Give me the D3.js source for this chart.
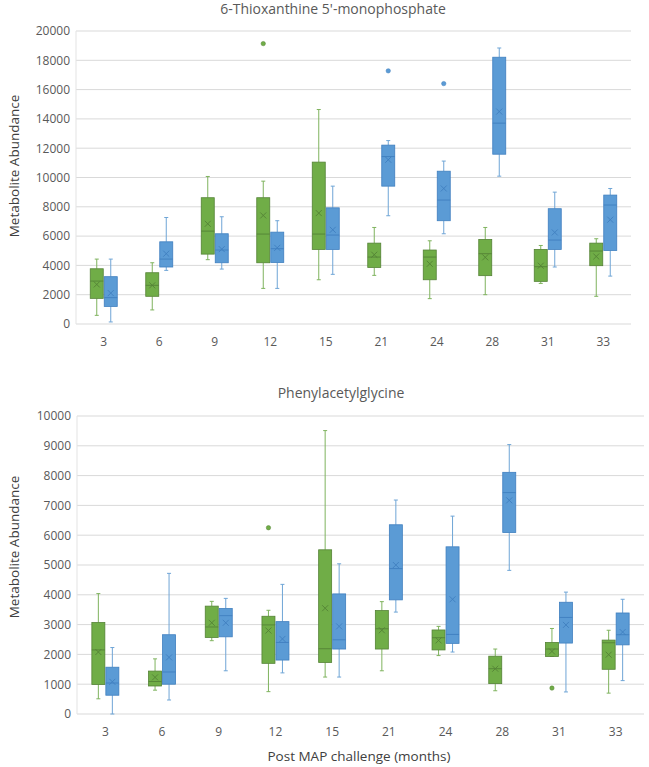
<!DOCTYPE html>
<html>
<head>
<meta charset="utf-8">
<script src="https://cdn.jsdelivr.net/npm/d3@7"></script>
<style>
  body { margin: 0; background: #fff; }
  text { font-family: "Open Sans", "Noto Sans", sans-serif; fill: #595959; }
</style>
</head>
<body>
<script>
// months after challenge
const months = ['3', '6', '9', '12', '15', '21', '24', '28', '31', '33'];

// each row: [whisker low, Q1, median, Q3, whisker high, mean]
const thioGreen = [
  [590, 1750, 2930, 3770, 4430, 2700],
  [960, 1890, 2640, 3500, 4180, 2640],
  [4390, 4770, 6340, 8620, 10070, 6840],
  [2430, 4180, 6140, 8620, 9750, 7410],
  [3020, 5090, 6140, 11050, 14640, 7570],
  [3320, 3860, 4570, 5520, 6590, 4730],
  [1730, 3020, 4570, 5050, 5680, 4110],
  [2000, 3300, 4800, 5770, 6590, 4550],
  [2770, 2910, 3910, 5090, 5360, 3980],
  [1890, 3980, 4980, 5520, 5820, 4610]
];
const thioBlue = [
  [140, 1200, 1800, 3230, 4430, 2110],
  [3660, 3890, 4430, 5610, 7270, 4800],
  [3750, 4180, 5050, 6160, 7320, 5110],
  [2430, 4200, 5140, 6270, 7050, 5200],
  [3390, 5090, 6070, 7930, 9410, 6430],
  [7390, 9410, 11430, 12210, 12520, 11210],
  [6160, 7050, 8460, 10430, 11120, 9250],
  [10090, 11590, 13710, 18210, 18840, 14500],
  [3890, 5090, 5730, 7870, 9000, 6250],
  [3270, 5020, 8120, 8800, 9250, 7120]
];
const thioGreenOut = [['12', 19140]];
const thioBlueOut = [['21', 17280], ['24', 16410]];

const phenGreen = [
  [510, 990, 2150, 3070, 4040, 2080],
  [800, 940, 1090, 1440, 1850, 1230],
  [2460, 2570, 2920, 3620, 3780, 3060],
  [750, 1700, 2990, 3280, 3480, 2800],
  [1240, 1730, 2190, 5510, 9510, 3550],
  [1450, 2180, 2860, 3470, 3770, 2810],
  [1960, 2150, 2560, 2820, 2940, 2470],
  [780, 1020, 1520, 1940, 2180, 1520],
  [1930, 1930, 2180, 2400, 2870, 2100],
  [700, 1500, 2390, 2480, 2810, 1990]
];
const phenBlue = [
  [0, 630, 1040, 1570, 2230, 1080],
  [470, 1000, 1410, 2660, 4720, 1900],
  [1450, 2590, 3300, 3540, 3880, 3060],
  [1380, 1810, 2400, 3100, 4350, 2520],
  [1240, 2180, 2490, 4030, 5040, 2940],
  [3420, 3830, 4880, 6350, 7180, 5000],
  [2080, 2370, 2670, 5610, 6640, 3850],
  [4820, 6090, 7430, 8110, 9040, 7170],
  [740, 2380, 3240, 3750, 4090, 2990],
  [1120, 2320, 2660, 3390, 3850, 2750]
];
const phenGreenOut = [['12', 6250], ['31', 870]];
const phenBlueOut = [];

const thioTicks = d3.range(0, 20001, 2000);
const phenTicks = d3.range(0, 10001, 1000);

const green = { fill: '#70ad47', stroke: '#548235', whisker: '#7fb35e' };
const blue = { fill: '#5b9bd5', stroke: '#3f7fbf', whisker: '#6fa5d6' };

const svg = d3.select('body').append('svg')
  .attr('width', 649)
  .attr('height', 767);

function drawChart(opt) {
  const x = d3.scaleBand().domain(months).range([opt.left, opt.right]);
  const y = d3.scaleLinear().domain([0, opt.max]).range([opt.bottom, opt.top]);
  const g = svg.append('g');

  // gridlines
  g.selectAll('.grid')
    .data(opt.ticks)
    .join('line')
    .attr('x1', opt.left)
    .attr('x2', opt.right)
    .attr('y1', d => y(d))
    .attr('y2', d => y(d))
    .style('stroke', '#d9d9d9')
    .style('stroke-width', '1px');

  g.append('line')
    .attr('x1', opt.left).attr('x2', opt.left)
    .attr('y1', opt.top).attr('y2', opt.bottom)
    .style('stroke', '#e3e3e3');

  // y tick labels
  const yAxis = g.append('g')
    .attr('transform', `translate(${opt.left - 6},0)`)
    .call(d3.axisLeft(y).tickValues(opt.ticks).tickFormat(d3.format('d')).tickSize(0).tickPadding(0));
  yAxis.select('.domain').remove();
  yAxis.selectAll('text').style('font-size', '12px').style('fill', '#595959');

  // x tick labels
  const xAxis = g.append('g')
    .attr('transform', `translate(0,${opt.bottom + 13})`)
    .call(d3.axisBottom(x).tickSize(0).tickPadding(0));
  xAxis.select('.domain').remove();
  xAxis.selectAll('text').style('font-size', '12px').style('fill', '#595959');

  // title
  g.append('text')
    .attr('x', opt.titleX)
    .attr('y', opt.titleY)
    .attr('text-anchor', 'middle')
    .style('font-size', '14px')
    .text(opt.title);

  // y axis title
  g.append('text')
    .attr('transform', `translate(19,${opt.yTitleY}) rotate(-90)`)
    .attr('text-anchor', 'middle')
    .style('font-size', '13.5px')
    .style('fill', '#404040')
    .text('Metabolite Abundance');

  const boxW = 13;
  drawSeries(g, x, y, opt.green, opt.greenOut, green, -7, boxW);
  drawSeries(g, x, y, opt.blue, opt.blueOut, blue, 7, boxW);
}

function drawSeries(g, x, y, data, outliers, col, shift, boxW) {
  const cx = i => x(months[i]) + x.bandwidth() / 2 + shift;
  const s = g.append('g');

  data.forEach((d, i) => {
    const c = cx(i);
    // whiskers
    s.append('line')
      .attr('x1', c).attr('x2', c)
      .attr('y1', y(d[4])).attr('y2', y(d[3]))
      .style('stroke', col.whisker);
    s.append('line')
      .attr('x1', c).attr('x2', c)
      .attr('y1', y(d[1])).attr('y2', y(d[0]))
      .style('stroke', col.whisker);
    [d[0], d[4]].forEach(v => {
      s.append('line')
        .attr('x1', c - 2).attr('x2', c + 2)
        .attr('y1', y(v)).attr('y2', y(v))
        .style('stroke', col.whisker);
    });
    // box
    s.append('rect')
      .attr('x', c - boxW / 2)
      .attr('y', y(d[3]))
      .attr('width', boxW)
      .attr('height', y(d[1]) - y(d[3]))
      .style('fill', col.fill)
      .style('stroke', col.stroke)
      .style('stroke-width', '0.8px');
    // median
    s.append('line')
      .attr('x1', c - boxW / 2).attr('x2', c + boxW / 2)
      .attr('y1', y(d[2])).attr('y2', y(d[2]))
      .style('stroke', col.stroke)
      .style('stroke-width', '0.9px');
    // mean marker
    const m = y(d[5]);
    s.append('path')
      .attr('d', `M${c - 3},${m - 3}L${c + 3},${m + 3}M${c - 3},${m + 3}L${c + 3},${m - 3}`)
      .style('stroke', col.stroke)
      .style('stroke-width', '0.9px');
  });

  s.selectAll('circle')
    .data(outliers)
    .join('circle')
    .attr('cx', d => x(d[0]) + x.bandwidth() / 2 + shift)
    .attr('cy', d => y(d[1]))
    .attr('r', 2.2)
    .style('fill', col.fill)
    .style('stroke', col.stroke)
    .style('stroke-width', '0.5px');
}

drawChart({
  left: 76, right: 631, top: 31, bottom: 324, max: 20000,
  ticks: thioTicks, title: "6-Thioxanthine 5'-monophosphate",
  titleX: 333, titleY: 14, yTitleY: 166,
  green: thioGreen, blue: thioBlue, greenOut: thioGreenOut, blueOut: thioBlueOut
});

drawChart({
  left: 77, right: 644, top: 416, bottom: 714, max: 10000,
  ticks: phenTicks, title: 'Phenylacetylglycine',
  titleX: 341, titleY: 398, yTitleY: 547,
  green: phenGreen, blue: phenBlue, greenOut: phenGreenOut, blueOut: phenBlueOut
});

svg.append('text')
  .attr('x', 359)
  .attr('y', 761)
  .attr('text-anchor', 'middle')
  .style('font-size', '13.5px')
  .style('fill', '#404040')
  .text('Post MAP challenge (months)');
</script>
</body>
</html>
